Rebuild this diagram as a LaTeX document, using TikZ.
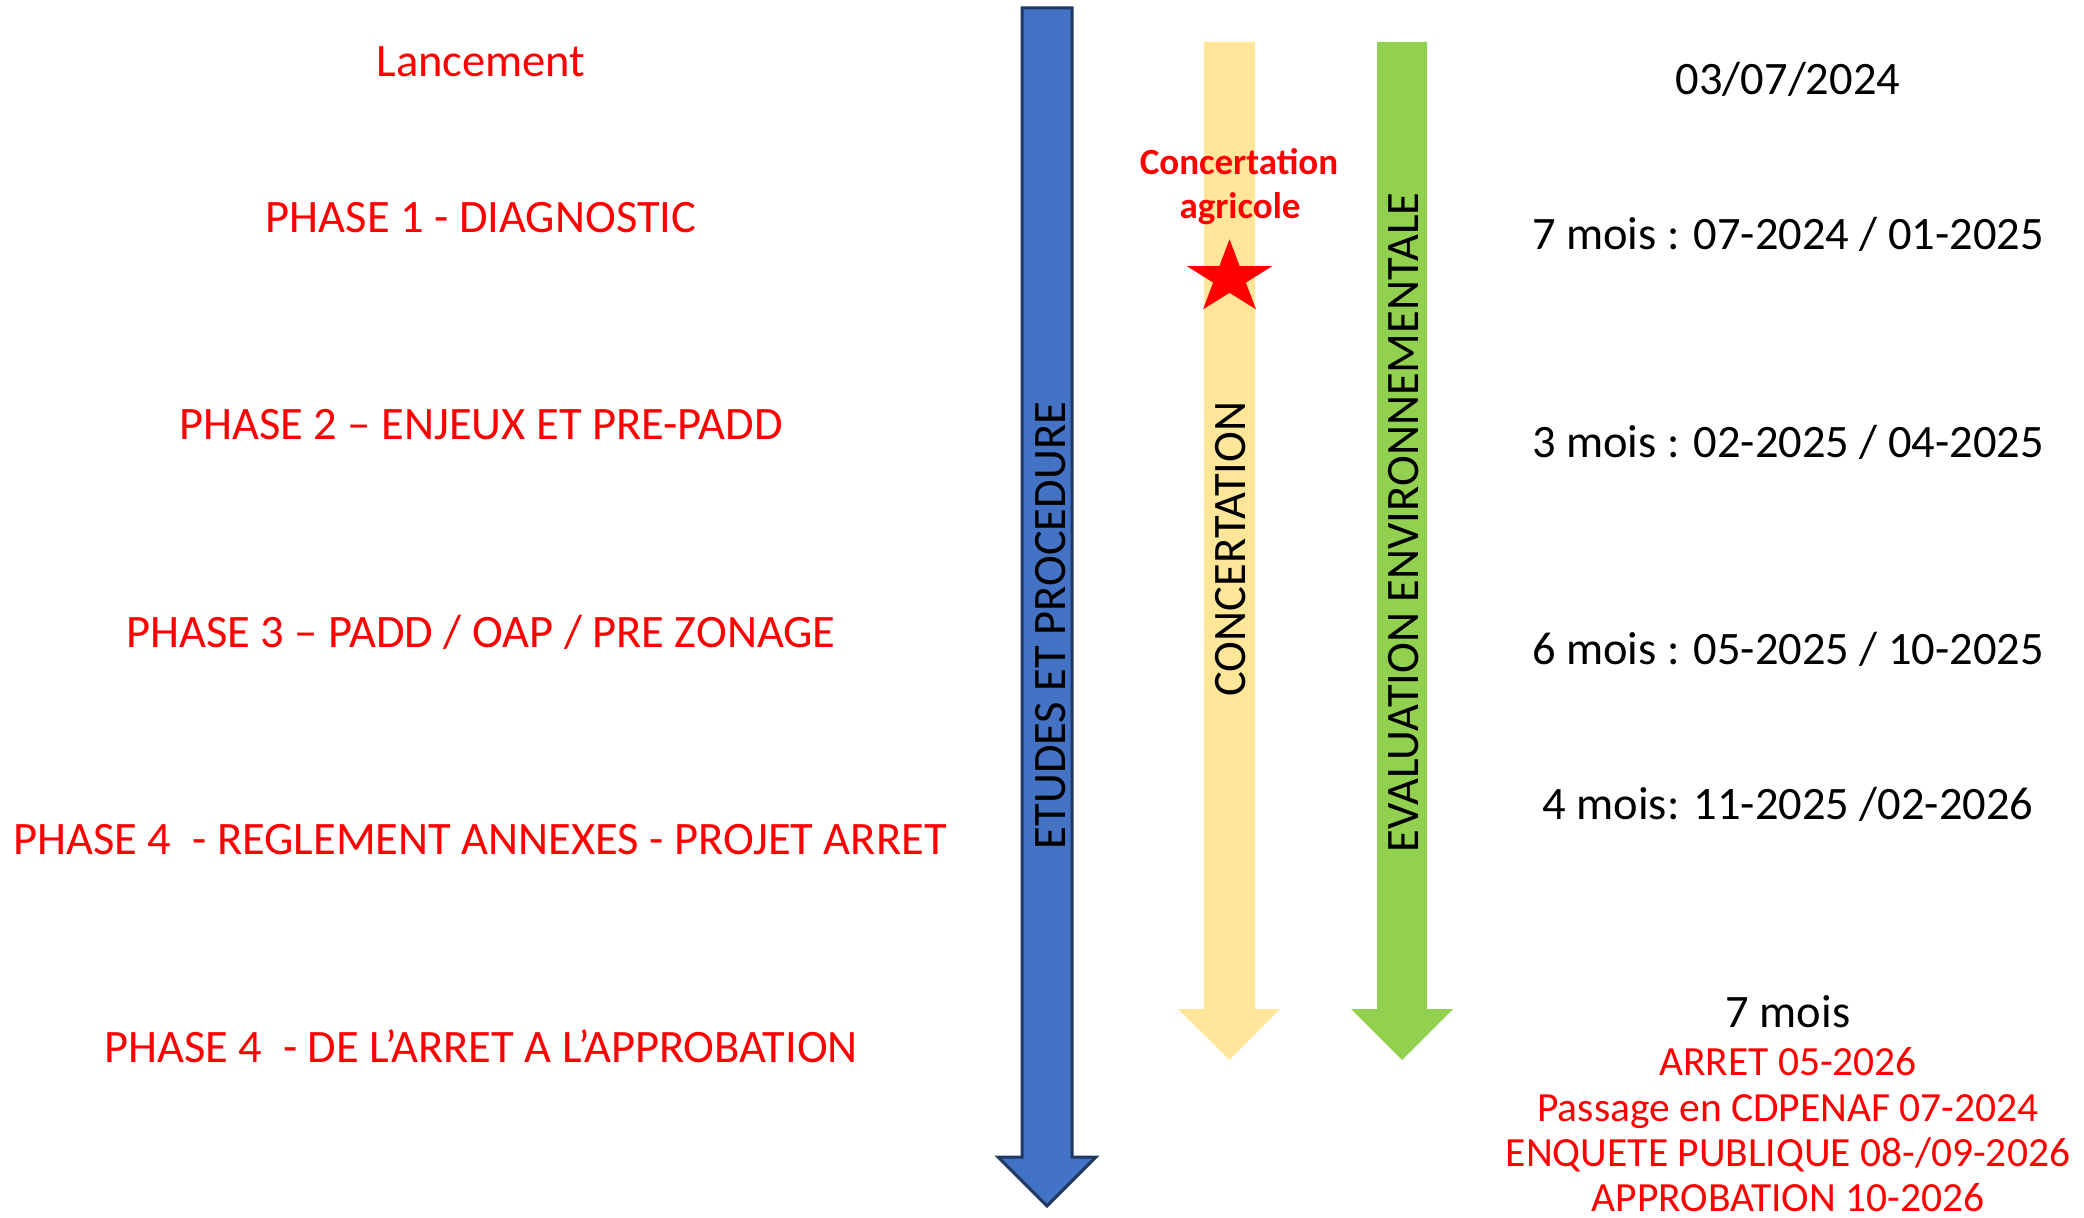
\documentclass[tikz,border=0pt]{standalone}
\usepackage{fontspec}
\setmainfont{Carlito}
\usetikzlibrary{calc}
\definecolor{bluefill}{RGB}{68,114,196}
\definecolor{blueline}{RGB}{31,56,100}
\definecolor{yellowfill}{RGB}{255,230,153}
\definecolor{greenfill}{RGB}{146,208,80}
\definecolor{pred}{RGB}{255,0,0}
\tikzset{
  phase/.style={anchor=base, text=pred, inner sep=0pt, font=\fontsize{23.25}{28}\selectfont},
  datetxt/.style={anchor=base, text=black, inner sep=0pt, font=\fontsize{23.25}{28}\selectfont},
  smallred/.style={anchor=base, text=pred, inner sep=0pt, font=\fontsize{20.75}{23}\selectfont},
  boldred/.style={anchor=base, text=pred, inner sep=0pt, font=\bfseries\fontsize{18.5}{22}\selectfont},
  vtext/.style={anchor=base, rotate=90, text=black, inner sep=0pt, font=\fontsize{23.25}{28}\selectfont},
}
\begin{document}
\begin{tikzpicture}[x=0.5pt,y=-0.5pt]
\useasboundingbox (0,0) rectangle (2084,1218);
% arrows
\path[fill=bluefill, draw=blueline, line width=1.5pt, line join=miter]
  (1022,8) -- (1072,8) -- (1072,1157) -- (1096,1157) -- (1047,1206) -- (998,1157) -- (1022,1157) -- cycle;
\path[fill=yellowfill]
  (1204,42) -- (1255,42) -- (1255,1009) -- (1280,1009) -- (1229.5,1060) -- (1178,1009) -- (1204,1009) -- cycle;
\path[fill=greenfill]
  (1377,42) -- (1427,42) -- (1427,1009) -- (1453,1009) -- (1402,1060) -- (1351,1009) -- (1377,1009) -- cycle;
% arrow texts
\node[vtext] (etudes) at (1065,625.5) {ETUDES ET PROCEDURE};
\node[vtext] (concert) at (1245,549) {CONCERTATION};
\node[vtext] (evalenv) at (1418,522.5) {EVALUATION ENVIRONNEMENTALE};
% star
\coordinate (starc) at (1229.5,278);
\fill[pred] ($(starc)+(270:45 and 38.7)$) -- ($(starc)+(306:17.2 and 14.8)$)
  -- ($(starc)+(342:45 and 38.7)$) -- ($(starc)+(18:17.2 and 14.8)$)
  -- ($(starc)+(54:45 and 38.7)$) -- ($(starc)+(90:17.2 and 14.8)$)
  -- ($(starc)+(126:45 and 38.7)$) -- ($(starc)+(162:17.2 and 14.8)$)
  -- ($(starc)+(198:45 and 38.7)$) -- ($(starc)+(234:17.2 and 14.8)$) -- cycle;
\node[boldred] (agri1) at (1239,175) {Concertation};
\node[boldred] (agri2) at (1240,219) {agricole};
% left phases
\node[phase] (lanc) at (481,77) {Lancement};
\node[phase] (ph1) at (481,233) {PHASE 1 - DIAGNOSTIC};
\node[phase] (ph2) at (481,440) {PHASE 2 – ENJEUX ET PRE-PADD};
\node[phase] (ph3) at (481,648) {PHASE 3 – PADD / OAP / PRE ZONAGE};
\node[phase] (ph4a) at (480,855) {PHASE 4~ - REGLEMENT ANNEXES - PROJET ARRET};
\node[phase] (ph4b) at (481,1062) {PHASE 4~ - DE L’ARRET A L’APPROBATION};
% right dates
\node[datetxt] (d0) at (1788,95) {03/07/2024};
\node[datetxt] (d1) at (1788,250) {7 mois : 07-2024 / 01-2025};
\node[datetxt] (d2) at (1788,458) {3 mois : 02-2025 / 04-2025};
\node[datetxt] (d3) at (1788,665) {6 mois : 05-2025 / 10-2025};
\node[datetxt] (d4) at (1788,820) {4 mois: 11-2025 /02-2026};
\node[datetxt] (d5) at (1788,1028) {7 mois};
\node[smallred] (r1) at (1788,1075) {ARRET 05-2026};
\node[smallred] (r2) at (1788,1121) {Passage en CDPENAF 07-2024};
\node[smallred] (r3) at (1788,1166) {ENQUETE PUBLIQUE 08-/09-2026};
\node[smallred] (r4) at (1788,1211) {APPROBATION 10-2026};
\end{tikzpicture}
\end{document}
